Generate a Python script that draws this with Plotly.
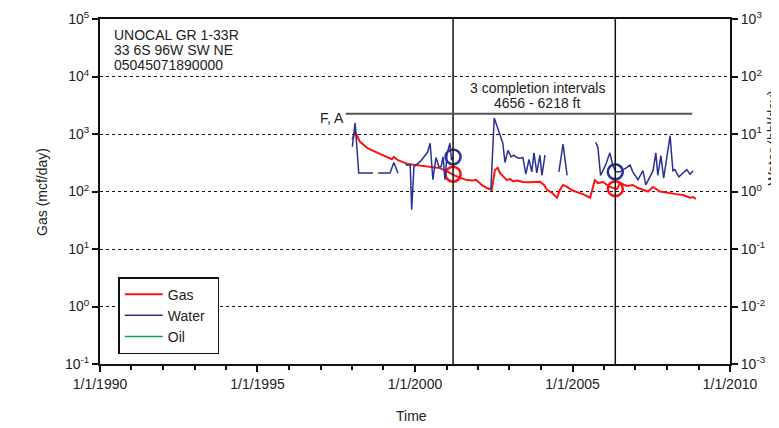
import plotly.graph_objects as go

# ---------------- data ----------------
gas_dates = ["1998-01-05", "1998-02-06", "1998-04-01", "1998-07-05", "1998-11-01", "1999-02-20",
             "1999-04-08", "1999-05-01", "1999-06-17", "1999-10-12", "2000-03-01", "2000-06-25",
             "2000-10-15", "2001-01-20", "2001-03-18", "2001-06-06", "2001-08-25", "2001-11-03",
             "2001-12-10", "2002-02-17", "2002-04-15", "2002-06-10", "2002-07-16", "2002-08-18",
             "2002-09-12", "2002-12-01", "2003-01-08", "2003-02-10", "2003-03-28", "2003-06-05",
             "2003-08-25", "2003-12-20", "2004-02-06", "2004-03-10", "2004-05-08", "2004-07-05",
             "2004-08-08", "2004-09-13", "2004-10-30", "2004-12-24", "2005-02-20", "2005-05-01",
             "2005-07-24", "2005-09-17", "2005-10-23", "2005-12-20", "2006-03-10", "2006-05-30",
             "2006-07-05", "2006-09-24", "2006-12-01", "2007-01-30", "2007-03-28", "2007-05-26",
             "2007-07-24", "2007-09-06", "2007-10-12", "2007-12-10", "2008-02-06", "2008-04-16",
             "2008-07-05", "2008-09-02", "2008-09-24", "2008-10-30", "2008-12-01"]
gas_values = [800, 1100, 740, 560, 465, 384,
              365, 400, 350, 300, 280, 270,
              255, 220, 195, 174, 158, 155,
              160, 129, 115, 107, 236, 258,
              210, 158, 165, 150, 155, 146,
              145, 148, 130, 107, 95, 78,
              107, 130, 120, 105, 98, 90,
              78, 158, 140, 146, 120, 110,
              141, 125, 130, 115, 107, 100,
              120, 110, 100, 97, 93, 90,
              87, 82, 78, 80, 74]

water_dates = ["1998-01-05", "1998-02-06", "1998-03-20", "1998-09-01", "1998-10-01",
               "1998-11-01", "1999-03-18", "1999-05-01", "1999-06-17", "1999-08-01",
               "1999-09-14", "1999-11-07", "1999-11-24", "1999-12-20", "2000-03-01",
               "2000-04-16", "2000-05-26", "2000-06-25", "2000-07-27", "2000-09-01",
               "2000-10-04", "2000-10-30", "2000-11-22", "2000-12-14", "2001-01-08",
               "2001-02-10", "2001-02-28", "2001-03-20", "2001-07-01", "2002-05-30",
               "2002-07-08", "2002-08-18", "2002-09-12", "2002-10-15", "2002-11-10",
               "2002-12-14", "2003-01-20", "2003-02-20", "2003-03-28", "2003-05-01",
               "2003-06-05", "2003-07-10", "2003-08-15", "2003-09-17", "2003-10-12",
               "2003-11-14", "2003-12-20", "2004-01-12", "2004-02-17", "2004-04-20",
               "2004-07-27", "2004-09-13", "2004-10-30", "2005-03-15", "2005-09-28",
               "2005-10-23", "2005-11-22", "2006-01-20", "2006-03-10", "2006-04-12",
               "2006-05-18", "2006-07-05", "2006-09-20", "2006-10-30", "2006-12-01",
               "2007-01-30", "2007-03-28", "2007-05-01", "2007-07-24", "2007-08-25",
               "2007-09-17", "2007-10-23", "2007-11-24", "2008-02-06", "2008-03-10",
               "2008-04-01", "2008-05-18", "2008-07-27", "2008-08-18", "2008-09-24",
               "2008-10-30"]
water_values = [6.0, 15.6, 2.1, 2.1, None,
                2.1, 2.1, 3.2, 2.1, None,
                2.9, 2.9, 0.48, 2.7, 3.3,
                4.0, 4.8, 6.9, 1.6, 3.9,
                2.7, 2.7, 4.0, 1.6, 4.6,
                6.9, 3.5, 4.0, None, 1.07,
                19, 12.6, 9.5, 7.0, 3.2,
                5.2, 4.0, 4.3, 3.9, 3.8,
                3.9, 2.0, 3.6, 2.2, 4.7,
                2.1, 4.3, 1.9, 4.3, None,
                2.2, 6.7, 1.9, None, 7.2,
                5.8, 1.9, 2.9, 4.7, 2.9,
                2.2, 2.2, 2.6, 2.9, 2.2,
                1.6, 2.3, 1.3, 2.3, 4.7,
                1.9, 4.2, 1.7, 9.3, 2.3,
                2.4, 1.8, 2.2, 2.4, 2.0,
                2.3]

oil_dates = []
oil_values = []

marker_dates = ["2001-03-18", "2006-05-12"]
marker_gas = [200, 112]
marker_water = [4.0, 2.2]

event_dates = ["2001-03-18", "2006-05-12"]
completion_span = ["1997-10-20", "2008-10-20"]
completion_level = 2240

well_lines = ["UNOCAL GR 1-33R", "33 6S 96W SW NE", "05045071890000"]
completion_lines = ["3 completion intervals", "4656 - 6218 ft"]

x_tick_dates = ["1990-01-01", "1995-01-01", "2000-01-01", "2005-01-01", "2010-01-01"]
x_tick_text = ["1/1/1990", "1/1/1995", "1/1/2000", "1/1/2005", "1/1/2010"]
x_minor_dates = [f"{y}-01-01" for y in range(1990, 2011)]

gas_tick_vals = [0.1, 1, 10, 100, 1000, 10000, 100000]
gas_tick_text = ["10<sup>-1</sup>", "10<sup>0</sup>", "10<sup>1</sup>", "10<sup>2</sup>",
                 "10<sup>3</sup>", "10<sup>4</sup>", "10<sup>5</sup>"]
water_tick_vals = [0.001, 0.01, 0.1, 1, 10, 100, 1000]
water_tick_text = ["10<sup>-3</sup>", "10<sup>-2</sup>", "10<sup>-1</sup>", "10<sup>0</sup>",
                   "10<sup>1</sup>", "10<sup>2</sup>", "10<sup>3</sup>"]

# ---------------- styling ----------------
RED = "#ff1010"
BLUE = "#2b3193"
GREEN = "#00a651"
FONT = "Liberation Sans, Arial, sans-serif"
TXT = "#222222"
FS = 14
NB = "\u00a0"

fig = go.Figure()

fig.add_trace(go.Scatter(x=water_dates, y=water_values, mode="lines", name="Water",
                         line=dict(color=BLUE, width=1.5), yaxis="y2", connectgaps=False,
                         showlegend=False))
fig.add_trace(go.Scatter(x=gas_dates, y=gas_values, mode="lines", name="Gas",
                         line=dict(color=RED, width=2)))
fig.add_trace(go.Scatter(x=[None], y=[None], mode="lines", name="Water" + NB * 2,
                         line=dict(color=BLUE, width=1.5)))
fig.add_trace(go.Scatter(x=oil_dates if oil_dates else [None],
                         y=oil_values if oil_values else [None], mode="lines", name="Oil",
                         line=dict(color=GREEN, width=1.5)))
fig.add_trace(go.Scatter(x=marker_dates, y=marker_gas, mode="markers", showlegend=False,
                         marker=dict(symbol="circle-open", size=15, color=RED,
                                     line=dict(width=2.5, color=RED))))
fig.add_trace(go.Scatter(x=marker_dates, y=marker_water, mode="markers", showlegend=False,
                         yaxis="y2",
                         marker=dict(symbol="circle-open", size=15, color=BLUE,
                                     line=dict(width=2.5, color=BLUE))))

shapes = []
for d in event_dates:
    shapes.append(dict(type="line", xref="x", yref="paper", x0=d, x1=d, y0=0, y1=1,
                       line=dict(color="#111111", width=1.5)))
shapes.append(dict(type="line", xref="x", yref="y", x0=completion_span[0], x1=completion_span[1],
                   y0=completion_level, y1=completion_level,
                   line=dict(color="#555555", width=2)))


def ptext(text, x, y, xanchor="left", angle=0):
    return dict(text=text, xref="paper", yref="paper", x=x, y=y, xanchor=xanchor,
                yanchor="middle", textangle=angle, showarrow=False, borderpad=0,
                font=dict(size=FS, color=TXT, family=FONT))


annotations = []
for i, t in enumerate(well_lines):
    annotations.append(ptext(t, 0.021, 0.9536 - i * 0.0435))
for i, t in enumerate(completion_lines):
    annotations.append(ptext(t, 0.695, 0.801 - i * 0.0435, xanchor="center"))
annotations += [
    ptext("F, A", 0.389, 0.712, xanchor="right"),
    ptext("Gas (mcf/day)", -0.093, 0.5, xanchor="center", angle=-90),
    ptext("Water (bbl/day)", 1.069, 0.655, xanchor="center", angle=-90),
    ptext("Time", 0.495, -0.152, xanchor="center"),
]

# page body has an 8px margin; size the figure so the plot area lands at x 100-730, y 19-364
fig.update_layout(
    width=771, height=420,
    margin=dict(l=92, r=49, t=11, b=64, autoexpand=False),
    paper_bgcolor="white", plot_bgcolor="white",
    font=dict(family=FONT, size=FS, color=TXT),
    shapes=shapes, annotations=annotations,
    legend=dict(x=0.029, y=0.252, xanchor="left", yanchor="top", bgcolor="white",
                bordercolor="#111111", borderwidth=1.5, font=dict(size=FS, family=FONT),
                tracegroupgap=0, itemwidth=38),
    xaxis=dict(type="date", range=["1990-01-01", "2010-01-01"], tickvals=x_tick_dates,
               ticktext=x_tick_text, ticks="outside", ticklen=6, tickwidth=1.5,
               tickcolor="#111111", showline=True, linecolor="#111111", linewidth=2,
               mirror=True, showgrid=False, zeroline=False,
               tickfont=dict(size=FS, color=TXT),
               minor=dict(tickvals=x_minor_dates, ticks="outside", ticklen=4,
                          tickwidth=1.5, tickcolor="#111111", showgrid=False)),
    yaxis=dict(type="log", range=[-1, 5], tickvals=gas_tick_vals, ticktext=gas_tick_text,
               ticks="outside", ticklen=6, tickwidth=2, tickcolor="#111111",
               showline=True, linecolor="#111111", linewidth=2,
               showgrid=True, gridcolor="#111111", gridwidth=1, griddash="dot",
               zeroline=False, tickfont=dict(size=FS, color=TXT)),
    yaxis2=dict(type="log", range=[-3, 3], overlaying="y", side="right",
                tickvals=water_tick_vals, ticktext=water_tick_text,
                ticks="outside", ticklen=6, tickwidth=2, tickcolor="#111111",
                showline=True, linecolor="#111111", linewidth=2, showgrid=False,
                zeroline=False, tickfont=dict(size=FS, color=TXT)),
)

fig.write_html("out.html")
